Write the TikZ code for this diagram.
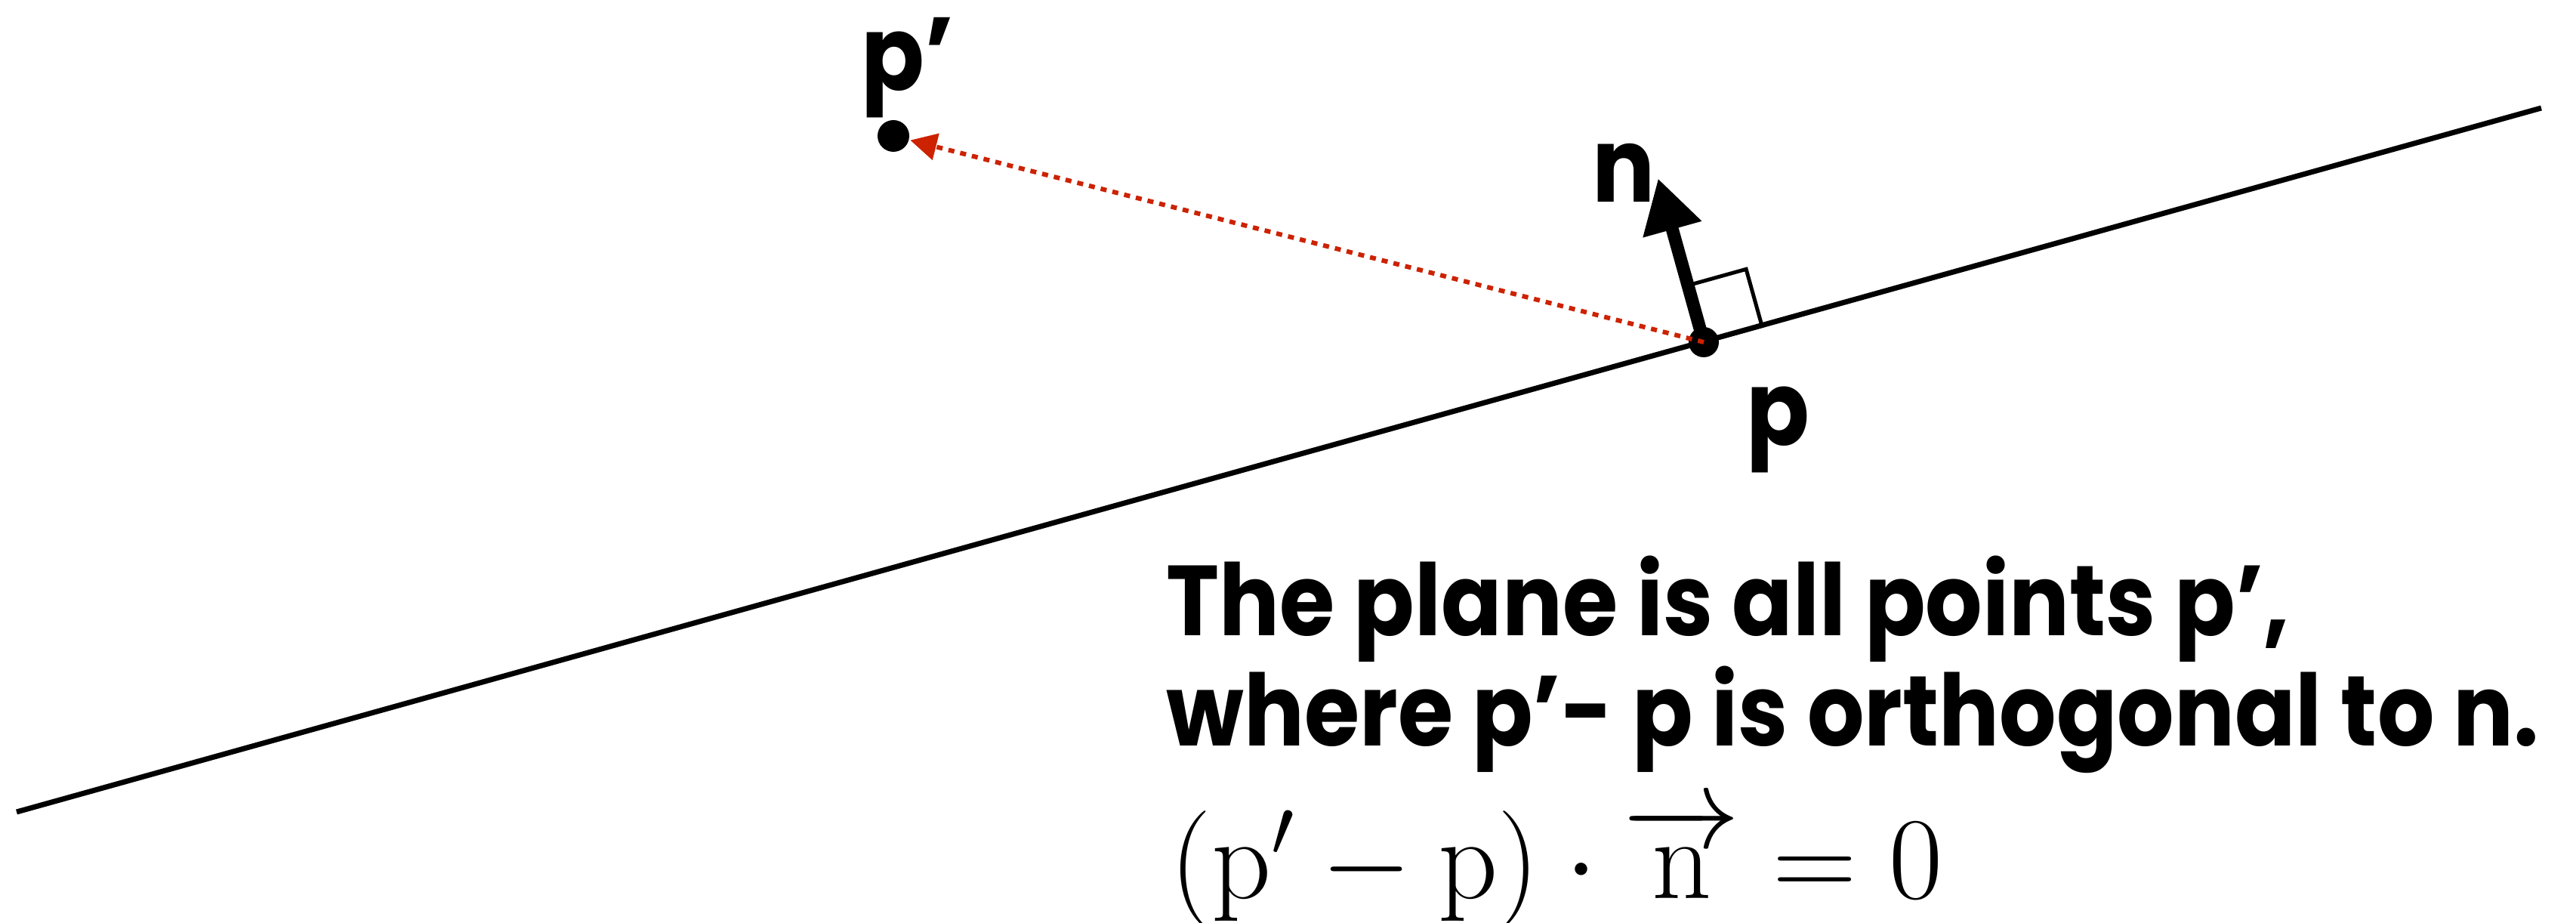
\documentclass[tikz,border=0pt]{standalone}
\usepackage{fix-cm}
\usepackage{amsmath}
\usepackage{fontspec}
\usetikzlibrary{arrows.meta, positioning, calc}
\newfontfamily\geofont{Poppins}[FakeStretch=0.9]
\definecolor{DotRed}{HTML}{CC2200}

\begin{document}
\begin{tikzpicture}[
    dot/.style={circle, fill=black, inner sep=0pt, minimum size=4mm},
    lbl/.style={font=\geofont\bfseries\fontsize{39}{40}\selectfont, inner sep=0pt, anchor=base west},
    txt/.style={font=\geofont\bfseries\fontsize{37.5}{42}\selectfont, inner sep=0pt, anchor=base west}]
    \useasboundingbox (0,0) rectangle (34.11,-12.22);

    % Plane
    \coordinate (left) at (0.22,-10.75);
    \coordinate (right) at (33.65,-1.43);
    \draw[line width=0.7mm] (left) -- (right);

    % Points
    \node (p) [dot] at (22.56,-4.53) {};
    \node (pp) [dot, minimum size=4.2mm] at (11.83,-1.80) {};

    % Normal and right angle
    \coordinate (ntip) at ($(p.center)+(105.58:2.25)$);
    \coordinate (sq1) at ($(p.center)+(105.58:0.78)$);
    \coordinate (sq2) at ($(sq1)+(15.58:0.8)$);
    \coordinate (sq3) at ($(p.center)+(15.58:0.8)$);
    \draw[line width=0.5mm] (sq1) -- (sq2) -- (sq3) -- (p.center);
    \draw[line width=1.7mm, -{Triangle[length=7mm, width=7.6mm]}] (p.center) -- (ntip);

    % Difference vector
    \draw[DotRed, line width=0.6mm, dash pattern=on 0.8mm off 0.8mm, shorten >=2.3mm,
          -{Triangle[length=3.5mm, width=3.5mm]}] (p.center) -- (pp.center);

    % Labels
    \node (plbl) [lbl] at (23.12,-5.90) {p};
    \node (nlbl) [lbl] at (21.08,-2.68) {n};
    \node (pplbl) [lbl] at (11.40,-1.20) {p’};

    % Caption
    \node (line1) [txt] at (15.44,-8.42) {The plane is all points p’,};
    \node (line2) [txt] at (15.44,-9.88) {where p’- p is orthogonal to n.};
    \node (eq) [inner sep=0pt, anchor=base west, font=\fontsize{44}{50}\selectfont] at (15.49,-11.90)
        {$(\mathrm{p}' - \mathrm{p}) \cdot \overrightarrow{\mathrm{n}} = 0$};
\end{tikzpicture}
\end{document}
